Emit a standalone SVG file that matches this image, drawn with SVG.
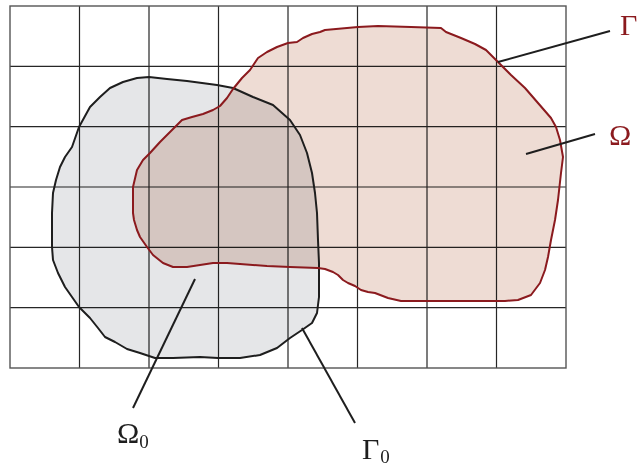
<svg xmlns="http://www.w3.org/2000/svg" width="638" height="469" viewBox="0 0 638 469">
<style>
.grid{stroke:#262626;stroke-width:1.2;fill:none}
.border{stroke:#555;stroke-width:1.4;fill:none}
.gray{fill:#e5e6e8;mix-blend-mode:multiply}
.pink{fill:#eedcd4;mix-blend-mode:multiply}
.outline0{fill:none;stroke:#1e1e1e;stroke-width:2;stroke-linejoin:round}
.outline1{fill:none;stroke:#8b1a1e;stroke-width:2;stroke-linejoin:round}
.leader{stroke:#1e1e1e;stroke-width:2;fill:none}
.lbl{font-family:"Liberation Serif","DejaVu Serif",serif;font-size:30px}
.sub{font-family:"Liberation Serif","DejaVu Serif",serif;font-size:19px}
.red{fill:#8b1a1e}
.blk{fill:#1e1e1e}
</style>
<defs>
<path id="p0" d="M79,127 L90,107 L100,97 L110,88 L123,82 L137,78 L149,77 L167,79 L187,81 L217,85 L233,88 L253,97 L273,105 L290,120 L300,135 L307,153 L312,173 L315,193 L317,213 L318,240 L319,263 L319,297 L317,313 L312,323 L302,330 L290,338 L277,348 L260,355 L240,358 L218,358 L200,357 L173,358 L155,358 L140,353 L127,349 L115,342 L105,337 L98,328 L90,318 L79,307 L72,297 L65,287 L58,273 L53,260 L52,247 L52,230 L52,213 L53,193 L56,180 L60,167 L65,157 L72,147 Z"/>
<path id="p1" d="M320,32 L325,30 L358,27 L378,26 L411,27 L441,28 L446,32 L461,38 L475,44 L486,50 L498,62 L511,75 L525,88 L538,103 L551,118 L556,127 L560,140 L563,157 L561,173 L558,200 L555,220 L551,240 L548,257 L545,270 L540,283 L531,295 L518,300 L505,301 L468,301 L428,301 L401,301 L388,298 L375,293 L368,292 L361,290 L355,286 L348,283 L343,280 L338,275 L333,272 L325,269 L318,268 L290,267 L267,266 L240,264 L227,263 L213,263 L200,265 L187,267 L173,267 L163,263 L153,255 L147,247 L140,237 L137,230 L134,220 L133,213 L133,187 L137,170 L143,160 L150,153 L160,142 L170,132 L182,120 L192,117 L203,114 L213,110 L220,106 L227,98 L233,89 L242,78 L250,70 L258,58 L267,52 L277,47 L288,43 L297,42 L303,38 L312,34 Z"/>
</defs>
<g id="grid">
<path class="grid" d="M79.5,6V368 M149,6V368 M218.5,6V368 M288,6V368 M357.5,6V368 M427,6V368 M496.5,6V368 M10,66.3H566 M10,126.6H566 M10,187H566 M10,247.3H566 M10,307.6H566"/>
<rect class="border" x="10" y="6" width="556" height="362"/>
</g>
<g id="region-omega0">
<use href="#p0" class="gray"/>
</g>
<g id="region-omega">
<use href="#p1" class="pink"/>
</g>
<g id="boundary-gamma0">
<use href="#p0" class="outline0"/>
</g>
<g id="boundary-gamma">
<use href="#p1" class="outline1"/>
</g>
<g id="connectors">
<line class="leader" x1="498" y1="62" x2="610" y2="31"/>
<line class="leader" x1="526" y1="154" x2="595" y2="134"/>
<line class="leader" x1="195" y1="279" x2="133" y2="408"/>
<line class="leader" x1="302" y1="328" x2="355" y2="423"/>
</g>
<g id="label-gamma"><text class="lbl red" x="620" y="35">Γ</text></g>
<g id="label-omega"><text class="lbl red" x="609" y="145">Ω</text></g>
<g id="label-omega0"><text class="lbl blk" x="117" y="443">Ω<tspan class="sub" dy="5">0</tspan></text></g>
<g id="label-gamma0"><text class="lbl blk" x="362" y="459">Γ<tspan class="sub" dx="1" dy="4">0</tspan></text></g>
</svg>
